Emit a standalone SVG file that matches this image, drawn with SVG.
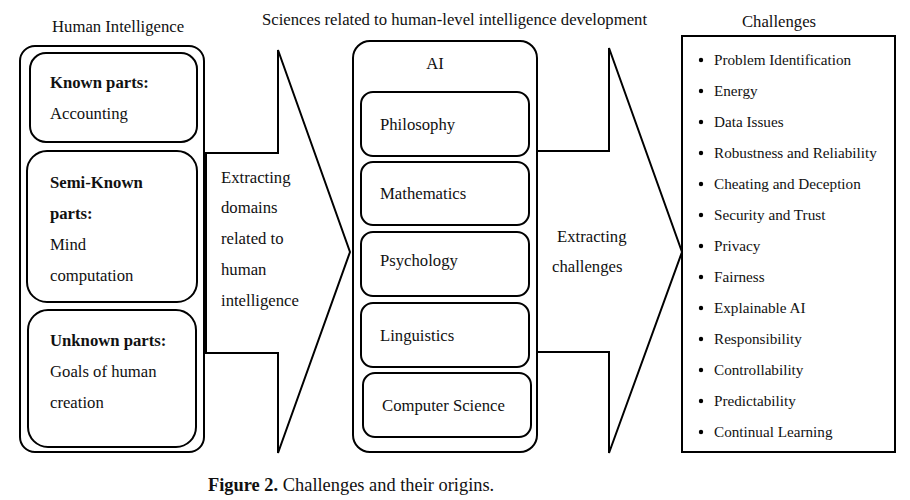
<svg xmlns="http://www.w3.org/2000/svg" width="910" height="500" viewBox="0 0 910 500">
<style>
text{font-family:"Liberation Serif","Times New Roman",serif;font-size:16.7px;fill:#111}
.b{font-weight:bold}
.li{font-size:15.2px}
.cap{font-size:18.4px}
.box{fill:none;stroke:#000;stroke-width:2}
.arr{fill:#fff;stroke:#000;stroke-width:2;stroke-linejoin:miter}
</style>
<rect width="910" height="500" fill="#fff"/>
<g id="connectors">
<polygon class="arr" points="206,153 278,153 278,50 350,252 278,453 278,353 206,353"/>
<polygon class="arr" points="537,151 609,151 609,48 682,252 609,453 609,352 537,352"/>
<text x="221" y="183">Extracting</text>
<text x="221" y="213">domains</text>
<text x="221" y="244">related to</text>
<text x="221" y="275">human</text>
<text x="221" y="306">intelligence</text>
<text x="557" y="242">Extracting</text>
<text x="552" y="272">challenges</text>
</g>
<g id="human">
<text x="52" y="32">Human Intelligence</text>
<rect class="box" x="20" y="46" width="184" height="406" rx="15"/>
</g>
<g id="known">
<rect class="box" x="30" y="53" width="167" height="89" rx="16"/>
<text class="b" x="50" y="88">Known parts:</text>
<text x="50" y="119">Accounting</text>
</g>
<g id="semi">
<rect class="box" x="27" y="151" width="170" height="151" rx="20"/>
<text class="b" x="50" y="188">Semi-Known</text>
<text class="b" x="50" y="219">parts:</text>
<text x="50" y="250">Mind</text>
<text x="50" y="281">computation</text>
</g>
<g id="unknown">
<rect class="box" x="28" y="310" width="168" height="137" rx="20"/>
<text class="b" x="50" y="346">Unknown parts:</text>
<text x="50" y="377">Goals of human</text>
<text x="50" y="408">creation</text>
</g>
<g id="ai">
<text x="262" y="25">Sciences related to human-level intelligence development</text>
<rect class="box" x="353" y="41" width="184" height="411" rx="17"/>
<text x="435" y="69" text-anchor="middle">AI</text>
</g>
<g id="philosophy">
<rect class="box" x="361" y="92" width="168" height="64" rx="12"/>
<text x="380" y="130">Philosophy</text>
</g>
<g id="mathematics">
<rect class="box" x="361" y="162" width="168" height="63" rx="12"/>
<text x="380" y="199">Mathematics</text>
</g>
<g id="psychology">
<rect class="box" x="361" y="232" width="168" height="64" rx="12"/>
<text x="380" y="266">Psychology</text>
</g>
<g id="linguistics">
<rect class="box" x="361" y="303" width="168" height="64" rx="12"/>
<text x="380" y="341">Linguistics</text>
</g>
<g id="cs">
<rect class="box" x="363" y="373" width="168" height="64" rx="12"/>
<text x="382" y="411">Computer Science</text>
</g>
<g id="challenges">
<text x="779" y="27" text-anchor="middle">Challenges</text>
<rect class="box" x="682" y="36" width="213" height="416"/>
<g fill="#000">
<circle cx="701" cy="60" r="2.2"/><circle cx="701" cy="91" r="2.2"/><circle cx="701" cy="122" r="2.2"/><circle cx="701" cy="153" r="2.2"/><circle cx="701" cy="184" r="2.2"/><circle cx="701" cy="215" r="2.2"/><circle cx="701" cy="246" r="2.2"/><circle cx="701" cy="277" r="2.2"/><circle cx="701" cy="308" r="2.2"/><circle cx="701" cy="339" r="2.2"/><circle cx="701" cy="370" r="2.2"/><circle cx="701" cy="401" r="2.2"/><circle cx="701" cy="432" r="2.2"/>
</g>
<text class="li" x="714" y="65">Problem Identification</text>
<text class="li" x="714" y="96">Energy</text>
<text class="li" x="714" y="127">Data Issues</text>
<text class="li" x="714" y="158">Robustness and Reliability</text>
<text class="li" x="714" y="189">Cheating and Deception</text>
<text class="li" x="714" y="220">Security and Trust</text>
<text class="li" x="714" y="251">Privacy</text>
<text class="li" x="714" y="282">Fairness</text>
<text class="li" x="714" y="313">Explainable AI</text>
<text class="li" x="714" y="344">Responsibility</text>
<text class="li" x="714" y="375">Controllability</text>
<text class="li" x="714" y="406">Predictability</text>
<text class="li" x="714" y="437">Continual Learning</text>
</g>
<text class="cap" x="208" y="491"><tspan class="b">Figure 2.</tspan> Challenges and their origins.</text>
</svg>
